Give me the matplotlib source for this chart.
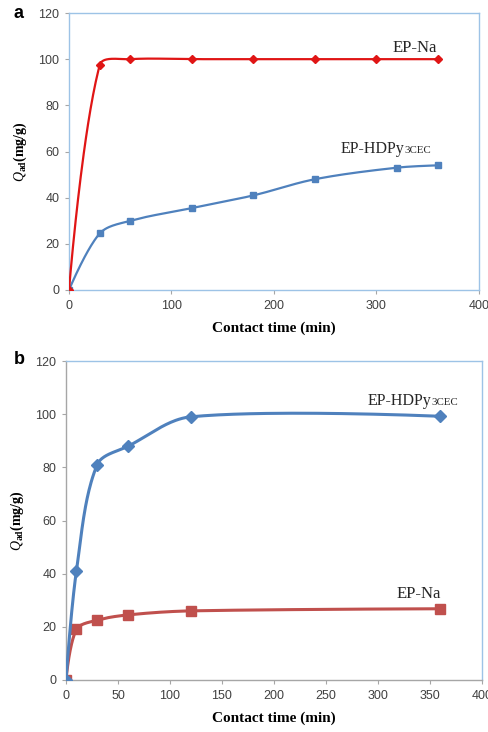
import matplotlib.pyplot as plt
import numpy as np

# panel a
a_na_t = [0, 30, 60, 120, 180, 240, 300, 360]
a_na_q = [0, 97.5, 100, 100, 100, 100, 100, 100]
a_hd_t = [0, 30, 60, 120, 180, 240, 320, 360]
a_hd_q = [0, 24.5, 30, 35.5, 41, 48, 53, 54]

# panel b
b_hd_t = [0, 10, 30, 60, 120, 360]
b_hd_q = [0, 41, 81, 88, 99, 99.2]
b_na_t = [0, 10, 30, 60, 120, 360]
b_na_q = [0, 19, 22.5, 24.5, 26, 26.8]

RED_A = '#E01515'
RED_B = '#C0504D'
BLUE = '#4F81BD'
FRAME = '#9DC3E6'
TICKC = '#404040'


def smooth(x, y, sx, sy, n=40):
    # smoothed line through the points, tangents scaled by segment length (screen units)
    P = np.column_stack([np.asarray(x, float) * sx, np.asarray(y, float) * sy])
    out = []
    for i in range(len(P) - 1):
        p0 = P[i - 1] if i > 0 else P[i]
        p1 = P[i]
        p2 = P[i + 1]
        p3 = P[i + 2] if i + 2 < len(P) else P[i + 1]
        d01 = np.hypot(*(p1 - p0))
        d12 = np.hypot(*(p2 - p1))
        d23 = np.hypot(*(p3 - p2))
        c1 = p1 + (p2 - p0) * d12 / (3 * (d01 + d12)) if d01 > 0 else p1
        c2 = p2 - (p3 - p1) * d12 / (3 * (d12 + d23)) if d23 > 0 else p2
        t = np.linspace(0, 1, n)[:, None]
        seg = (1 - t) ** 3 * p1 + 3 * (1 - t) ** 2 * t * c1 + 3 * (1 - t) * t ** 2 * c2 + t ** 3 * p2
        out.append(seg)
    s = np.vstack(out)
    return s[:, 0] / sx, s[:, 1] / sy


def series(ax, t, q, color, marker, ms, lw, sx, sy, z=3):
    xs, ys = smooth(t, q, sx, sy)
    ax.plot(xs, ys, color=color, lw=lw, zorder=z, solid_capstyle='round')
    ax.plot(t, q, ls='none', marker=marker, ms=ms, color=color, zorder=z + 0.5)


def style(ax, xticks, left_gray=False):
    ax.set_xlim(0, 400)
    ax.set_ylim(0, 120)
    ax.set_xticks(xticks)
    ax.set_yticks(range(0, 121, 20))
    for s in ax.spines.values():
        s.set_color(FRAME)
        s.set_linewidth(1.0)
    if left_gray:
        ax.spines['left'].set_color('#A6A6A6')
        ax.spines['bottom'].set_color('#A6A6A6')
    ax.tick_params(direction='out', length=3, width=0.8, color='#A6A6A6',
                   labelcolor=TICKC, labelsize=9, pad=4)
    for lab in ax.get_xticklabels() + ax.get_yticklabels():
        lab.set_fontfamily('Liberation Sans')
    ax.set_xlabel('Contact time (min)', family='Liberation Serif', fontweight='bold',
                  fontsize=11, labelpad=7)
    ax.set_ylabel(r'$\mathbf{\mathit{Q}}_{\mathbf{ad}}$(mg/g)', family='Liberation Serif',
                  fontweight='bold', fontsize=10, labelpad=7)


def label(fig, ax, x, y, main, small, size=11.5):
    t1 = ax.text(x, y, main, family='Liberation Serif', fontsize=size,
                 color='#262626', ha='left', va='baseline')
    fig.canvas.draw()
    bb = t1.get_window_extent()
    x2, _ = ax.transData.inverted().transform((bb.x1, bb.y0))
    if small:
        ax.text(x2, y, small, family='Liberation Serif', fontsize=size * 0.68,
                color='#262626', ha='left', va='baseline')


plt.rcParams['mathtext.fontset'] = 'custom'
plt.rcParams['mathtext.rm'] = 'Liberation Serif'
plt.rcParams['mathtext.it'] = 'Liberation Serif:italic'
plt.rcParams['mathtext.bf'] = 'Liberation Serif:bold'
plt.rcParams['mathtext.bfit'] = 'Liberation Serif:bold:italic'

fig = plt.figure(figsize=(4.89, 7.32), dpi=100)
H = 732.0
W = 489.0
ax1 = fig.add_axes([69 / W, 1 - 290 / H, 410 / W, 277 / H])
ax2 = fig.add_axes([66 / W, 1 - 680 / H, 416 / W, 319 / H])

# screen scale (px per data unit) for the smoothing
sx1, sy1 = 410 / 400, 277 / 120
sx2, sy2 = 416 / 400, 319 / 120

series(ax1, a_hd_t, a_hd_q, BLUE, 's', 5, 1.6, sx1, sy1, z=3)
series(ax1, a_na_t, a_na_q, RED_A, 'D', 4, 1.6, sx1, sy1, z=4)
style(ax1, range(0, 401, 100))

series(ax2, b_na_t, b_na_q, RED_B, 's', 7.5, 2.2, sx2, sy2, z=3)
series(ax2, b_hd_t, b_hd_q, BLUE, 'D', 6.5, 2.2, sx2, sy2, z=4)
style(ax2, range(0, 401, 50), left_gray=True)

label(fig, ax1, 316, 103, 'EP-Na', None, 12)
label(fig, ax1, 265, 59.5, 'EP-HDPy', '3CEC')
label(fig, ax2, 290, 103.5, 'EP-HDPy', '3CEC')
label(fig, ax2, 318, 31, 'EP-Na', None, 12)

fig.text(14 / W, 1 - 13 / H, 'a', fontsize=13, fontweight='bold', family='Liberation Sans',
         ha='left', va='center')
fig.text(14 / W, 1 - 359 / H, 'b', fontsize=13, fontweight='bold', family='Liberation Sans',
         ha='left', va='center')

fig.savefig('out.png', dpi=100)
